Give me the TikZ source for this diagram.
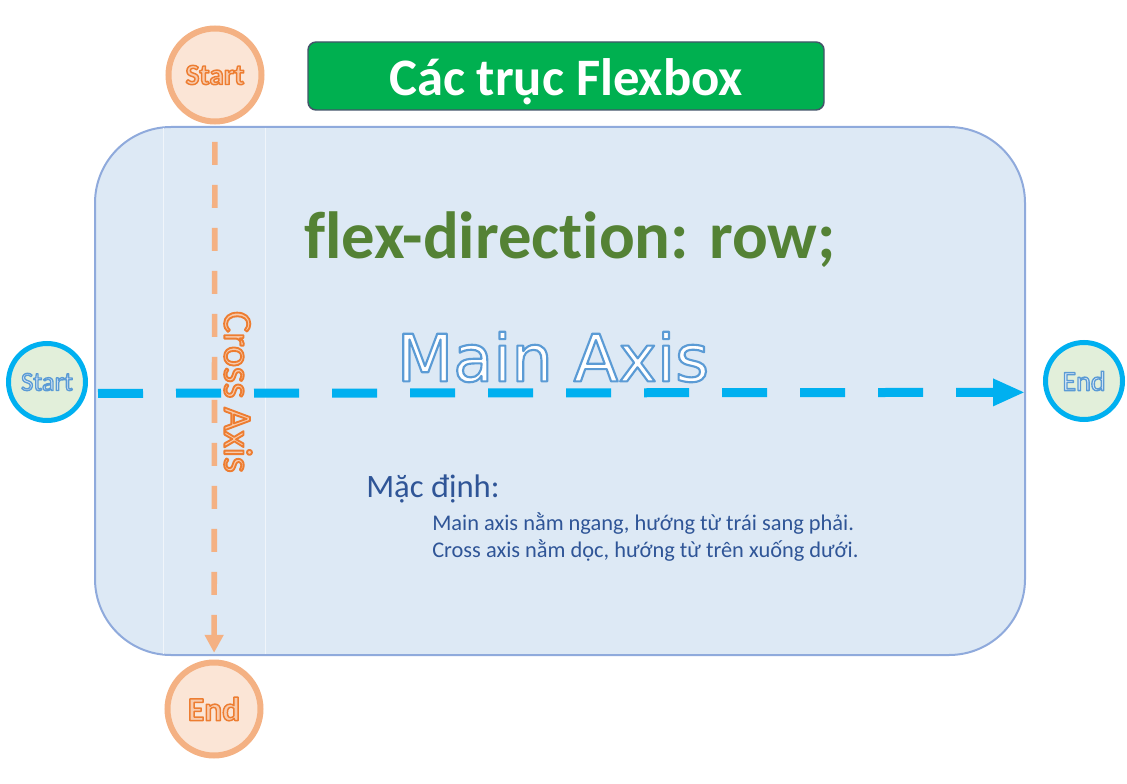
\documentclass[tikz,border=0pt]{standalone}
\usepackage{fontspec}
\setmainfont{Carlito}[Ligatures=NoCommon]
\newfontfamily\dejavu{DejaVu Sans}
\usetikzlibrary{arrows.meta}
\definecolor{boxfill}{HTML}{DDE9F5}
\definecolor{boxline}{HTML}{8FAADC}
\definecolor{titlegreen}{HTML}{00B050}
\definecolor{titleline}{HTML}{44546A}
\definecolor{dirgreen}{HTML}{548235}
\definecolor{noteblue}{HTML}{2F5597}
\definecolor{axisblue}{HTML}{00B0F0}
\definecolor{circgreen}{HTML}{E2EFDA}
\definecolor{circorange}{HTML}{FBE5D6}
\definecolor{lineorange}{HTML}{F4B183}
% outlined text: #1 line width, #2 stroke rgb, #3 fill rgb, #4 text
\newcommand{\outl}[4]{\special{pdf:bcolor [#3] [#2]}\special{pdf:literal direct 2 Tr #1 w 1 j}#4\special{pdf:literal direct 0 Tr}\special{pdf:ecolor}}
\def\rgbblue{0.357 0.608 0.835}
\def\rgbfillblue{0.867 0.922 0.969}
\def\rgborange{0.929 0.490 0.192}
\def\rgbfillorange{0.973 0.796 0.678}
\tikzset{
  bluecirc/.style={circle, draw=axisblue, line width=3.75pt, fill=circgreen, minimum size=57.75pt, inner sep=0pt},
  orangecirc/.style={circle, draw=lineorange, line width=4.5pt, fill=circorange, minimum size=69.75pt, inner sep=0pt},
  mainarrow/.style={draw=axisblue, line width=6.75pt, dash pattern=on 33.75pt off 24.75pt, -{Triangle[length=24pt,width=19pt]}},
  crossarrow/.style={draw=lineorange, line width=4.2pt, dash pattern=on 17.25pt off 15pt, -{Triangle[length=13.5pt,width=13.5pt]}},
  faint/.style={draw=white!55!boxfill, line width=0.6pt}
}
\begin{document}
\begin{tikzpicture}[x=0.75pt,y=-0.75pt]
\useasboundingbox (0,0) rectangle (1127,784);
% main box
\draw[fill=boxfill, draw=boxline, line width=1.5pt, rounded corners=57pt] (95,127) rectangle (1025,655);
\draw[faint] (163,128) -- (163,654);
\draw[faint] (265,128) -- (265,654);
% title
\node[draw=titleline, line width=1.1pt, fill=titlegreen, rounded corners=6pt, minimum width=387pt, minimum height=51pt, inner sep=0pt] (title) at (566,76) {};
\node[text=white, font=\bfseries\fontsize{39.5}{44}\selectfont, anchor=base] (titletxt) at (566,96) {Các trục Flexbox};
% flex-direction
\node[text=dirgreen, font=\bfseries\fontsize{50}{56}\selectfont, anchor=base] (dir) at (570,258) {flex-direction: row;};
% circles
\node[bluecirc] (ms) at (47,382) {\outl{1.0}{\rgbblue}{\rgbfillblue}{\fontsize{20}{22}\selectfont Start}};
\node[bluecirc] (me) at (1084,381) {\outl{1.0}{\rgbblue}{\rgbfillblue}{\fontsize{21}{22}\selectfont End}};
\node[orangecirc] (cs) at (215,75) {\outl{1.1}{\rgborange}{\rgbfillorange}{\bfseries\fontsize{22}{24}\selectfont Start}};
\node[orangecirc] (ce) at (214,709) {\outl{1.1}{\rgborange}{\rgbfillorange}{\bfseries\fontsize{25}{28}\selectfont End}};
% axes
\draw[mainarrow, shorten <=7.5pt, shorten >=13.5pt] ([yshift=-8.5pt]ms.east) -- ([yshift=-8.5pt]me.west);
\draw[crossarrow, shorten <=13pt, shorten >=5pt] (cs) -- (ce);
% axis labels
\node[anchor=center] (mainlbl) at (553,357) {\outl{1.6}{\rgbblue}{1 1 1}{\dejavu\fontsize{49}{54}\selectfont Main Axis}};
\node[anchor=center, rotate=-90] (crosslbl) at (238,392) {\outl{1.4}{\rgborange}{\rgbfillorange}{\fontsize{30}{34}\selectfont Cross Axis}};
% note
\node[anchor=base west, inner sep=0pt, text=noteblue, font=\fontsize{24.5}{28}\selectfont] (note) at (366,497) {Mặc định:};
\node[anchor=base west, inner sep=0pt, text=noteblue, font=\fontsize{16.8}{20}\selectfont] (l1) at (432,530) {Main axis nằm ngang, hướng từ trái sang phải.};
\node[anchor=base west, inner sep=0pt, text=noteblue, font=\fontsize{16.8}{20}\selectfont] (l2) at (432,557) {Cross axis nằm dọc, hướng từ trên xuống dưới.};
\end{tikzpicture}
\end{document}
